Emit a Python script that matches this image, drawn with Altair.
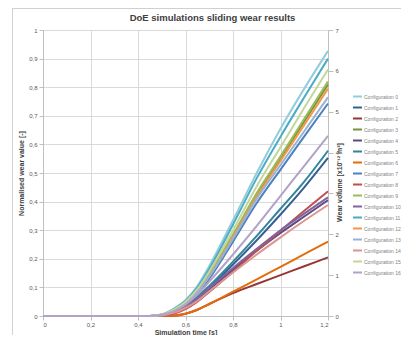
import altair as alt
import pandas as pd

# ---- data ----
times = [0, 0.45, 0.5, 0.55, 0.6, 0.65, 0.7, 0.8, 0.9, 1.0, 1.1, 1.2]

configs = [f"Configuration {i}" for i in range(17)]
colors = ["#93CDDD", "#376092", "#953735", "#77933C", "#604A7B", "#31859C",
          "#E46C0A", "#4F81BD", "#C0504D", "#9BBB59", "#8064A2", "#4BACC6",
          "#F79646", "#95B3D7", "#D99694", "#C3D69B", "#B3A2C7"]

c0 = [0, 0, 0.005, 0.025, 0.055, 0.105, 0.175, 0.335, 0.500, 0.655, 0.795, 0.927]
c1 = [0, 0, 0.003, 0.013, 0.033, 0.064, 0.100, 0.180, 0.265, 0.355, 0.450, 0.553]
c2 = [0, 0, 0.000, 0.001, 0.008, 0.022, 0.042, 0.080, 0.112, 0.143, 0.174, 0.205]
c3 = [0, 0, 0.004, 0.020, 0.047, 0.088, 0.145, 0.280, 0.425, 0.552, 0.680, 0.810]
c4 = [0, 0, 0.003, 0.013, 0.031, 0.058, 0.093, 0.162, 0.228, 0.290, 0.348, 0.405]
c5 = [0, 0, 0.003, 0.014, 0.035, 0.068, 0.105, 0.190, 0.280, 0.375, 0.470, 0.578]
c6 = [0, 0, 0.000, 0.001, 0.008, 0.022, 0.042, 0.085, 0.128, 0.172, 0.216, 0.260]
c7 = [0, 0, 0.003, 0.017, 0.041, 0.078, 0.130, 0.260, 0.395, 0.512, 0.628, 0.743]
c8 = [0, 0, 0.001, 0.008, 0.024, 0.050, 0.084, 0.155, 0.228, 0.298, 0.368, 0.436]
c9 = [0, 0, 0.004, 0.021, 0.048, 0.090, 0.148, 0.285, 0.430, 0.558, 0.690, 0.820]
c10 = [0, 0, 0.003, 0.014, 0.033, 0.062, 0.098, 0.168, 0.235, 0.300, 0.358, 0.415]
c11 = [0, 0, 0.005, 0.024, 0.053, 0.100, 0.165, 0.320, 0.482, 0.627, 0.765, 0.900]
c12 = [0, 0, 0.004, 0.019, 0.045, 0.085, 0.140, 0.275, 0.417, 0.543, 0.668, 0.795]
c13 = [0, 0, 0.004, 0.019, 0.044, 0.083, 0.138, 0.270, 0.410, 0.528, 0.646, 0.765]
c14 = [0, 0, 0.002, 0.011, 0.028, 0.053, 0.086, 0.152, 0.215, 0.275, 0.333, 0.388]
c15 = [0, 0, 0.005, 0.022, 0.050, 0.094, 0.155, 0.300, 0.454, 0.590, 0.728, 0.862]
c16 = [0, 0, 0.004, 0.017, 0.040, 0.075, 0.120, 0.215, 0.315, 0.420, 0.525, 0.630]

series = [c0, c1, c2, c3, c4, c5, c6, c7, c8, c9, c10, c11, c12, c13, c14, c15, c16]

x_ticks = [0, 0.2, 0.4, 0.6, 0.8, 1.0, 1.2]
y_ticks = [0, 0.1, 0.2, 0.3, 0.4, 0.5, 0.6, 0.7, 0.8, 0.9, 1.0]
right_ticks = [0, 1, 2, 3, 4, 5, 6, 7]

rows = []
for name, vals in zip(configs, series):
    for t, v in zip(times, vals):
        rows.append({"config": name, "t": t, "v": v})
df = pd.DataFrame(rows)

FONT = "Liberation Sans"
GRID = "#d9d9d9"
AX = "#bfbfbf"
LAB = "#595959"
label_expr = "replace(format(datum.value, '.1~f'), '.', ',')"

lines = alt.Chart(df).mark_line(strokeWidth=2, interpolate="monotone").encode(
    x=alt.X("t:Q", scale=alt.Scale(domain=[0, 1.2], nice=False),
            axis=alt.Axis(values=x_ticks, labelExpr=label_expr,
                          title="Simulation time [s]", grid=True, gridColor=GRID,
                          domainColor=AX, tickColor=AX, tickSize=4,
                          labelFontSize=6, labelColor=LAB, labelFont=FONT, labelPadding=1,
                          titleFontSize=7, titleFontWeight="bold", titleFont=FONT,
                          titleColor="#404040", titlePadding=1)),
    y=alt.Y("v:Q", scale=alt.Scale(domain=[0, 1], nice=False),
            axis=alt.Axis(orient="left", values=y_ticks, labelExpr=label_expr,
                          title="Normalised wear value [-]", grid=True, gridColor=GRID,
                          domainColor=AX, tickColor=AX, tickSize=4,
                          labelFontSize=6, labelColor=LAB, labelFont=FONT, labelPadding=2,
                          titleFontSize=7, titleFontWeight="bold", titleFont=FONT,
                          titleColor="#404040", titlePadding=4)),
    color=alt.Color("config:N", sort=configs, title=None,
                    scale=alt.Scale(domain=configs, range=colors),
                    legend=alt.Legend(orient="none", legendX=309, legendY=61,
                                      direction="vertical", symbolType="stroke",
                                      symbolSize=81, symbolStrokeWidth=2,
                                      clipHeight=11, rowPadding=0, padding=0,
                                      labelFontSize=5, labelColor="#7f7f7f",
                                      labelFont=FONT, labelOffset=1)),
)

right = alt.Chart(pd.DataFrame({"w": right_ticks})).mark_point(opacity=0).encode(
    y=alt.Y("w:Q", scale=alt.Scale(domain=[0, 7], nice=False),
            axis=alt.Axis(orient="right", values=right_ticks,
                          title="Wear volume [x10⁻¹² m³]", titleAngle=270,
                          titleY=152, grid=False,
                          domainColor=AX, tickColor=AX, tickSize=5,
                          labelFontSize=6, labelColor=LAB, labelFont=FONT, labelPadding=2,
                          titleFontSize=7, titleFontWeight="bold", titleFont=FONT,
                          titleColor="#404040", titlePadding=4)),
)

frame_df = pd.DataFrame({"k": [0]})
left_border = alt.Chart(frame_df).mark_rule(color="#d0d0d0", strokeWidth=1).encode(
    x=alt.value(-30.5), y=alt.value(-22), y2=alt.value(310))
top_border = alt.Chart(frame_df).mark_rule(color="#d0d0d0", strokeWidth=1).encode(
    x=alt.value(-31), x2=alt.value(360), y=alt.value(-21.5))

chart = alt.layer(left_border, top_border, lines, right).resolve_scale(
    y="independent"
).properties(
    width=285, height=286,
    autosize=alt.AutoSizeParams(type="none"),
    padding={"left": 35, "top": 22, "right": 73, "bottom": 19},
    title=alt.TitleParams("DoE simulations sliding wear results", fontSize=9.5,
                          fontWeight="bold", font=FONT, color="#404040",
                          anchor="middle", baseline="alphabetic", dx=27, dy=23, offset=0),
).configure_view(strokeWidth=0)

chart.save("out.html", embed_options={"renderer": "svg", "actions": False})
